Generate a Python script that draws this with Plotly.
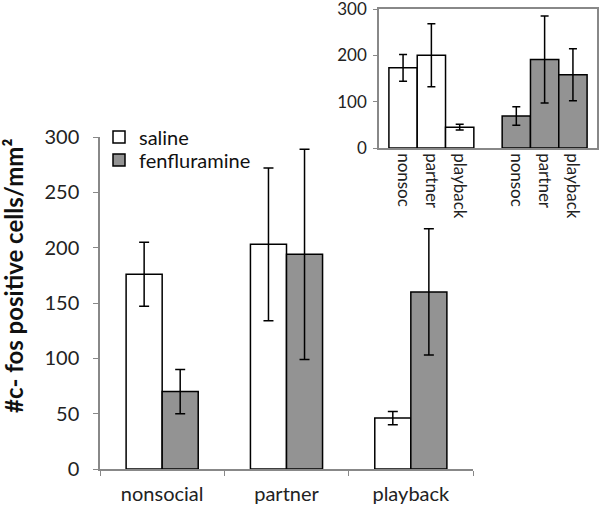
import plotly.graph_objects as go

categories = ["nonsocial", "partner", "playback"]
saline = [176, 203, 46]
saline_err = [29, 69, 6]
fenfluramine = [70, 194, 160]
fenfluramine_err = [20, 95, 57]

inset_labels = ["nonsoc", "partner", "playback", "nonsoc", "partner", "playback"]
inset_x = [0, 1, 2, 4, 5, 6]
inset_values = [173, 200, 45, 69, 191, 158]
inset_err = [29, 68, 6, 20, 94, 56]

WHITE = "#ffffff"
GRAY = "#939393"
AX = "#888888"
FONT = "Lato, Open Sans, sans-serif"

fig = go.Figure()
fig.add_trace(go.Bar(
    x=categories, y=saline, name="saline", legend="legend",
    marker=dict(color=WHITE, line=dict(color="black", width=1.5)),
    error_y=dict(type="data", array=saline_err, color="black", thickness=1.5, width=5),
    xaxis="x", yaxis="y",
))
fig.add_trace(go.Bar(
    x=categories, y=fenfluramine, name="fenfluramine", legend="legend2",
    marker=dict(color=GRAY, line=dict(color="black", width=1.5)),
    error_y=dict(type="data", array=fenfluramine_err, color="black", thickness=1.5, width=5),
    xaxis="x", yaxis="y",
))
fig.add_trace(go.Bar(
    x=inset_x, y=inset_values, width=[1] * len(inset_x), showlegend=False,
    marker=dict(color=[WHITE, WHITE, WHITE, GRAY, GRAY, GRAY], line=dict(color="black", width=1.5)),
    error_y=dict(type="data", array=inset_err, color="black", thickness=1.5, width=4),
    xaxis="x2", yaxis="y2",
))

legend_common = dict(xanchor="left", yanchor="middle",
                     font=dict(size=20, family=FONT, color="#111111"),
                     bgcolor="rgba(0,0,0,0)", itemwidth=30)

fig.update_layout(
    width=600, height=507,
    margin=dict(l=0, r=0, t=0, b=0, autoexpand=False),
    paper_bgcolor="white", plot_bgcolor="white",
    font=dict(family=FONT, color="#222222"),
    barmode="group", bargap=0.42, bargroupgap=0,
    showlegend=True,
    legend=dict(x=99 / 600, y=(507 - 137) / 507, **legend_common),
    legend2=dict(x=99 / 600, y=(507 - 160) / 507, **legend_common),
    xaxis=dict(domain=[100 / 600, 473 / 600], type="category",
               showline=True, linecolor=AX, linewidth=1.5,
               ticks="outside", tickson="boundaries", ticklen=5, tickcolor=AX,
               ticklabelstandoff=6, automargin=False,
               tickfont=dict(size=20), showgrid=False, anchor="y"),
    yaxis=dict(domain=[(507 - 469) / 507, (507 - 137) / 507], range=[0, 300],
               tickvals=[0, 50, 100, 150, 200, 250, 300],
               showline=True, linecolor=AX, linewidth=1.5,
               ticks="outside", ticklen=5, tickcolor=AX,
               ticklabelstandoff=10, automargin=False,
               tickfont=dict(size=20), showgrid=False, zeroline=False, anchor="x"),
    xaxis2=dict(domain=[379 / 600, 597 / 600], range=[-0.85, 6.85],
                tickvals=inset_x, ticktext=inset_labels, tickangle=90,
                showline=True, linecolor=AX, linewidth=1.5, mirror=True,
                ticks="", automargin=False,
                tickfont=dict(size=17), showgrid=False, zeroline=False, anchor="y2"),
    yaxis2=dict(domain=[(507 - 148) / 507, (507 - 9) / 507], range=[0, 300],
                tickvals=[0, 100, 200, 300],
                showline=True, linecolor=AX, linewidth=1.5, mirror=True,
                ticks="outside", ticklen=4, tickcolor=AX,
                ticklabelstandoff=3, automargin=False, ticklabeloverflow="allow",
                tickfont=dict(size=17), showgrid=False, zeroline=False, anchor="x2"),
    annotations=[dict(
        text="<b>#c- fos positive cells/mm²</b>", textangle=-90,
        x=13 / 600, y=(507 - 276) / 507, xref="paper", yref="paper",
        xanchor="center", yanchor="middle", showarrow=False,
        font=dict(size=24, family=FONT, color="#111111"),
    )],
)

fig.write_html(
    "out.html",
    config={"displayModeBar": False},
    post_script="document.body.style.margin='0';document.body.style.overflow='hidden';",
)
